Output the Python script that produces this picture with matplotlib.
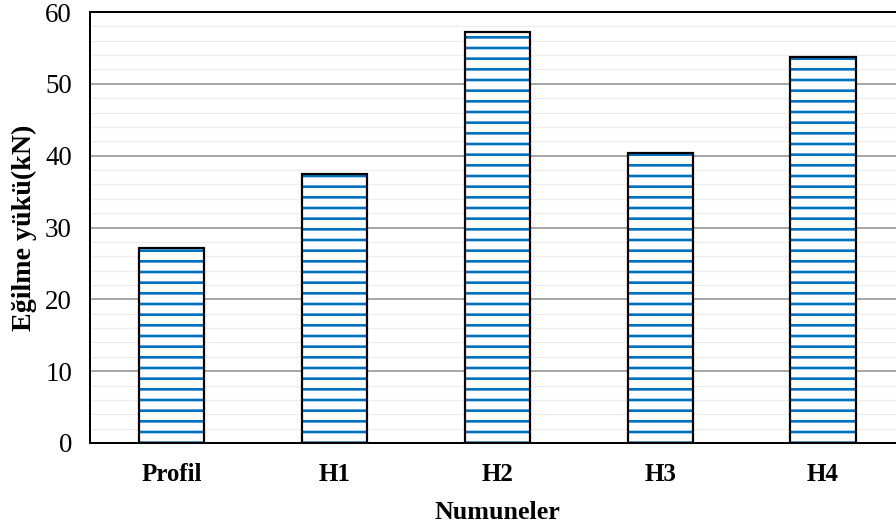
import matplotlib
matplotlib.use('Agg')
import matplotlib.pyplot as plt
import numpy as np
from matplotlib.ticker import MultipleLocator

categories = ['Profil', 'H1', 'H2', 'H3', 'H4']
loads = [27.1, 37.4, 57.2, 40.4, 53.7]
y_ticks = [0, 10, 20, 30, 40, 50, 60]

DPI = 64
plt.rcParams['font.family'] = ['Liberation Serif', 'DejaVu Serif']
plt.rcParams['hatch.linewidth'] = 3.0
plt.rcParams['hatch.color'] = '#0070C0'


def pt(px):
    return px * 72.0 / DPI


fig = plt.figure(figsize=(896 / DPI, 527 / DPI), dpi=DPI)
ax = fig.add_axes([90 / 896, 1 - 443 / 527, 814.5 / 896, 431 / 527])

x = np.arange(len(categories))
width = 0.4

# hatch layer (blue horizontal lines) then black outline on top
ax.bar(x, loads, width, color='white', edgecolor='#0070C0', hatch='-',
       linewidth=0, zorder=3)
ax.bar(x, loads, width, color='none', edgecolor='black',
       linewidth=pt(2.2), zorder=4)

ax.set_xlim(-0.5, len(categories) - 0.5)
ax.set_ylim(0, 60)
ax.set_yticks(y_ticks)
ax.yaxis.set_minor_locator(MultipleLocator(2))
ax.grid(axis='y', which='major', color='#8c8c8c', linewidth=pt(1.5), zorder=1)
ax.grid(axis='y', which='minor', color='#eeeeee', linewidth=pt(1.3), zorder=0)
ax.set_axisbelow(True)

ax.set_xticks(x)
ax.set_xticklabels(categories, fontsize=pt(25), fontweight='bold')
ax.tick_params(axis='y', which='both', length=0, labelsize=pt(27), pad=pt(18))
ax.tick_params(axis='x', length=0, pad=pt(20))

for side in ['left', 'bottom', 'top']:
    ax.spines[side].set_color('black')
    ax.spines[side].set_linewidth(pt(2))
ax.spines['right'].set_visible(False)

ax.set_xlabel('Numuneler', fontsize=pt(26), fontweight='bold', labelpad=pt(15))
ax.set_ylabel('Eğilme yükü(kN)', fontsize=pt(28), fontweight='bold', labelpad=pt(8))

fig.savefig('out.png', dpi=DPI)
